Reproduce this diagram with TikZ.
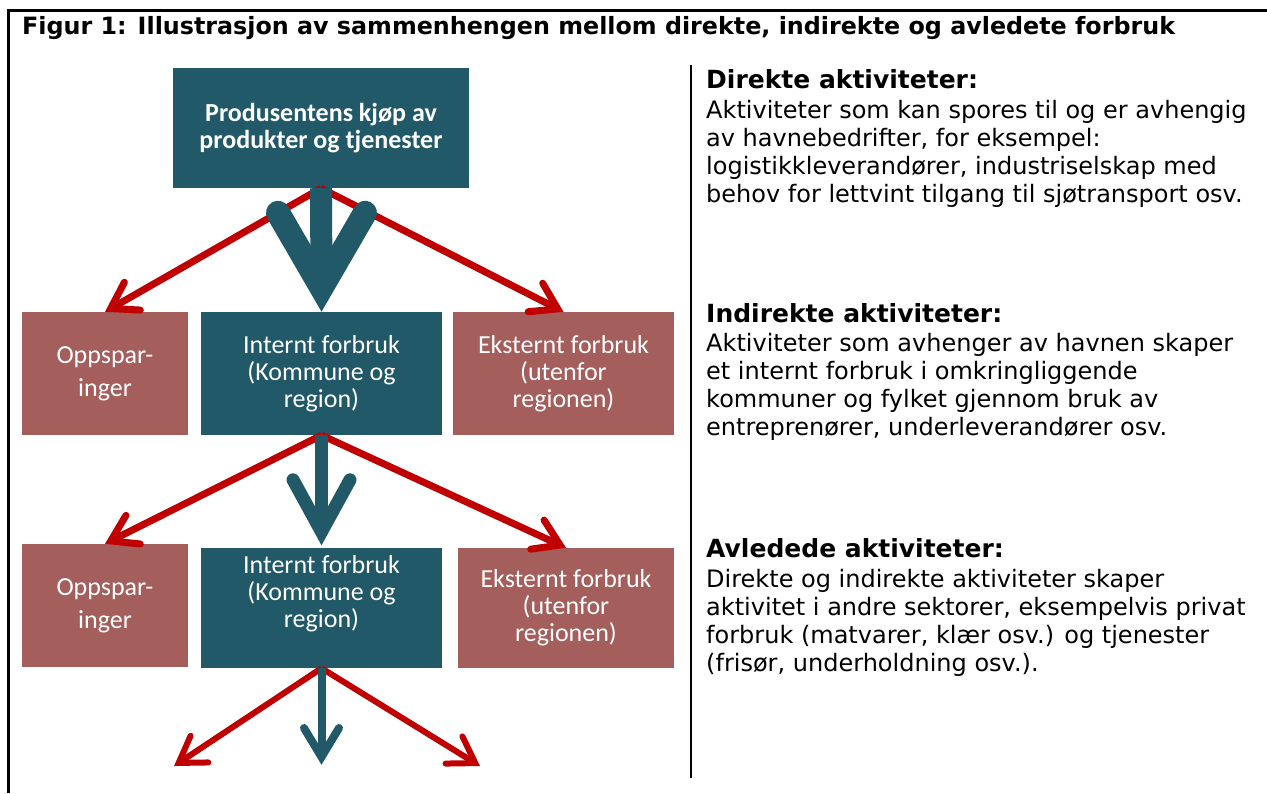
\documentclass[tikz,border=0pt]{standalone}
\usepackage{fontspec}
\setmainfont{DejaVu Sans}
\newfontfamily\boxfont{Carlito}
\usetikzlibrary{arrows.meta}
\definecolor{tealbox}{HTML}{215968}
\definecolor{rosebox}{HTML}{A45E5C}
\definecolor{redline}{HTML}{C00000}
\newcommand\rhfont{\bfseries\fontsize{25}{28}\selectfont}
\tikzset{
  tbox/.style={fill=tealbox, draw=none, text=white, inner sep=0pt, align=center,
    font=\boxfont\fontsize{26}{27}\selectfont},
  rbox/.style={fill=rosebox, draw=none, text=white, inner sep=0pt, align=center,
    font=\boxfont\fontsize{26}{27}\selectfont},
  redarrow/.style={draw=redline, line width=7pt,
    -{Straight Barb[length=25pt,width=32pt,line cap=round,line join=miter]}},
  tshaft/.style={draw=tealbox},
  thead/.style={draw=tealbox, line cap=round, line join=miter, miter limit=10},
  rtext/.style={inner sep=0pt, anchor=base west, font=\fontsize{24}{28}\selectfont},
  frame/.style={draw=black, line width=3pt},
}
\begin{document}
\begin{tikzpicture}[x=1pt,y=-1pt]
\useasboundingbox (0,0) rectangle (1267,793);
% frame
\draw[frame] (8.5,793) -- (8.5,10) -- (1267,10);
\draw[line width=2pt] (691,65) -- (691,778);
% title
\node[inner sep=0pt, anchor=base west, font=\bfseries\fontsize{23.8}{26}\selectfont] (title) at (22,34)
  {Figur 1: Illustrasjon av sammenhengen mellom direkte, indirekte og avledete forbruk};
% boxes
\node[tbox, minimum width=296pt, minimum height=120pt, font=\boxfont\bfseries\fontsize{26}{27}\selectfont] (top) at (321,128)
  {Produsentens kjøp av\\produkter og tjenester};
\node[rbox, minimum width=166pt, minimum height=123pt, font=\boxfont\fontsize{26}{33}\selectfont] (opp1) at (105,373.5) {Oppspar-\\inger};
\node[tbox, minimum width=241pt, minimum height=123pt] (int1) at (321.5,373.5) {Internt forbruk\\(Kommune og\\region)};
\node[rbox, minimum width=221pt, minimum height=123pt] (ext1) at (563.5,373.5) {Eksternt forbruk\\(utenfor\\regionen)};
\node[rbox, minimum width=166pt, minimum height=123pt, font=\boxfont\fontsize{26}{33}\selectfont] (opp2) at (105,605.5) {Oppspar-\\inger};
\node[tbox, minimum width=241pt, minimum height=120pt] (int2) at (321.5,608) {};
\node[tbox, fill=none] (int2t) at (321.5,594) {Internt forbruk\\(Kommune og\\region)};
\node[rbox, minimum width=216pt, minimum height=120pt] (ext2) at (566,608) {Eksternt forbruk\\(utenfor\\regionen)};
% free ends
\coordinate (bl) at (174,766);
\coordinate (bm) at (321.5,765);
\coordinate (br) at (480,766);
% red arrows
\draw[redarrow] (top.south) -- (opp1.north);
\draw[redarrow] (top.south) -- (ext1.north);
\draw[redarrow] (int1.south) -- (opp2.north);
\draw[redarrow] (int1.south) -- (ext2.north);
\draw[redarrow, line width=6pt] (int2.south) -- (bl);
\draw[redarrow, line width=6pt] (int2.south) -- (br);
% teal arrows
\draw[tshaft, line width=22pt] (top.south) -- ([yshift=24pt]int1.north);
\draw[thead, line width=24pt] ([shift={(-43.5,-99)}]int1.north) -- ([shift={(0,-24)}]int1.north) -- ([shift={(43.5,-99)}]int1.north);
\draw[tshaft, line width=13pt] (int1.south) -- ([yshift=16pt]int2.north);
\draw[thead, line width=13pt] ([shift={(-28.5,-68)}]int2.north) -- ([shift={(0,-16)}]int2.north) -- ([shift={(28.5,-68)}]int2.north);
\draw[tshaft, line width=8pt] (int2.south) -- ([yshift=8pt]bm);
\draw[thead, line width=8pt] ([shift={(-17.5,-37)}]bm) -- ([shift={(0,-8)}]bm) -- ([shift={(17.5,-37)}]bm);
% right texts
\node[rtext] (dir) at (706,88) {\parbox[t]{560pt}{\raggedright{\rhfont Direkte aktiviteter:}\\[2pt]
  Aktiviteter som kan spores til og er avhengig\\
  av havnebedrifter, for eksempel:\\
  logistikkleverandører, industriselskap med\\
  behov for lettvint tilgang til sjøtransport osv.}};
\node[rtext] (ind) at (706,322) {\parbox[t]{560pt}{\raggedright{\rhfont Indirekte aktiviteter:}\\[1pt]
  Aktiviteter som avhenger av havnen skaper\\
  et internt forbruk i omkringliggende\\
  kommuner og fylket gjennom bruk av\\
  entreprenører, underleverandører osv.}};
\node[rtext] (avl) at (706,557) {\parbox[t]{560pt}{\raggedright{\rhfont Avledede aktiviteter:}\\[2pt]
  Direkte og indirekte aktiviteter skaper\\
  aktivitet i andre sektorer, eksempelvis privat\\
  forbruk (matvarer, klær osv.) og tjenester\\
  (frisør, underholdning osv.).}};
\end{tikzpicture}
\end{document}
